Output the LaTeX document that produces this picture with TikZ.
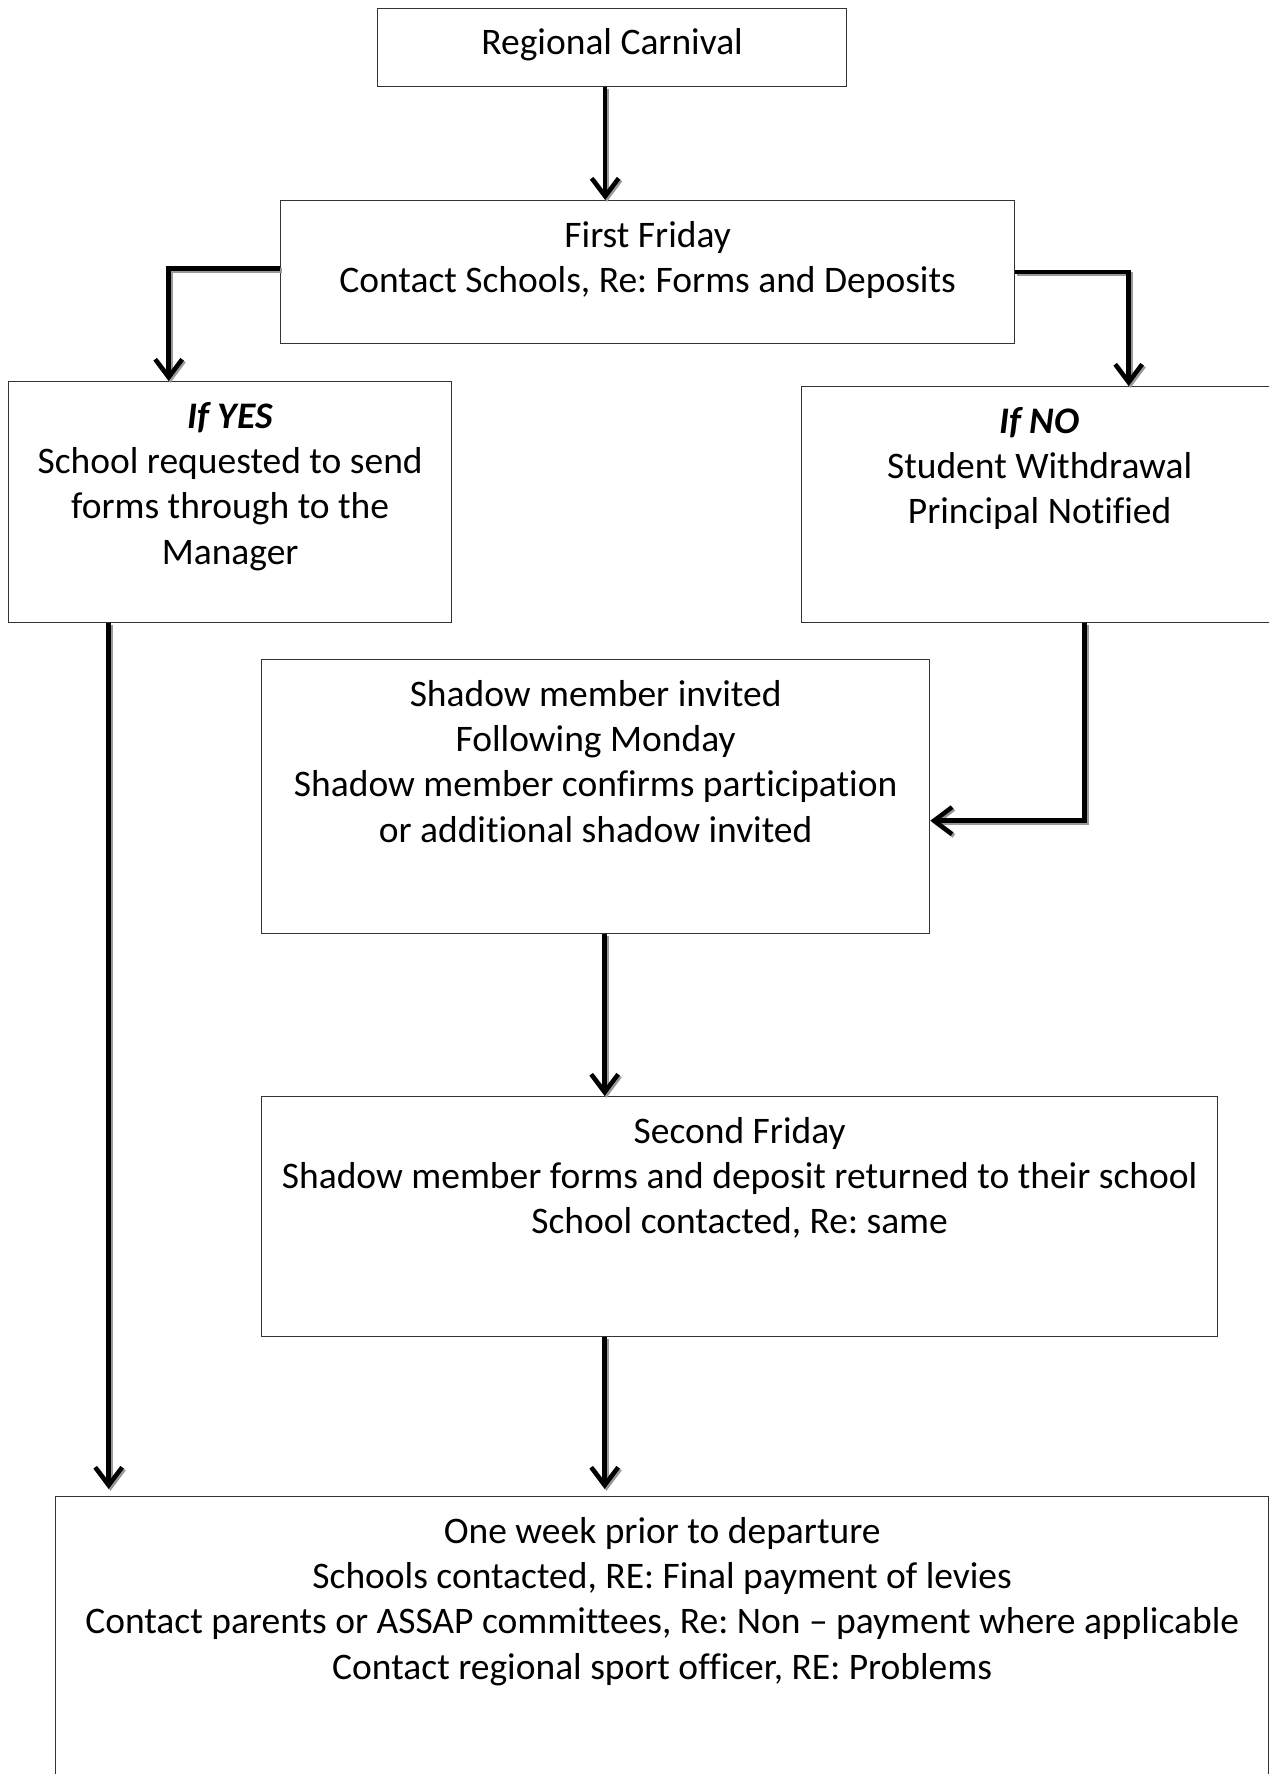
\documentclass[tikz,border=0pt]{standalone}
\usepackage{fontspec}
\setmainfont{Carlito}[Ligatures=NoCommon]
\usetikzlibrary{arrows.meta,calc}
\begin{document}
\frenchspacing
\begin{tikzpicture}[x=1pt,y=-1pt,
  boxstyle/.style={draw=black!80,line width=1.3pt,inner sep=0pt,anchor=north west},
  txt/.style={anchor=base,align=flush center,inner sep=0pt,font=\fontsize{37.5}{45.4}\selectfont\frenchspacing},
  conn/.style={line width=4.5pt,-{Straight Barb[length=18pt,width=27pt]},
    preaction={draw=black!40,line width=4.5pt,transform canvas={xshift=1.8pt,yshift=-1.8pt}}}]
\useasboundingbox (0,0) rectangle (1269,1774);
\clip (0,0) rectangle (1269,1774);
% boxes
\node[boxstyle,minimum width=469pt,minimum height=78pt] (rc) at (377,8) {};
\node[boxstyle,minimum width=734pt,minimum height=143pt] (ff) at (280,200) {};
\node[boxstyle,minimum width=443pt,minimum height=241pt] (yes) at (8,381) {};
\node[boxstyle,minimum width=476pt,minimum height=236pt] (no) at (801,386) {};
\node[boxstyle,minimum width=668pt,minimum height=274pt] (sh) at (261,659) {};
\node[boxstyle,minimum width=956pt,minimum height=240pt] (sf) at (261,1096) {};
\node[boxstyle,minimum width=1213pt,minimum height=320pt] (bot) at (55,1496) {};
% texts
\node[txt,text width=460pt] (rct) at ([yshift=-47pt]rc.north) {Regional Carnival};
\node[txt,text width=720pt] (fft) at ([yshift=-47pt]ff.north) {First Friday\\Contact Schools, Re: Forms and Deposits};
\node[txt,text width=435pt] (yest) at ([yshift=-47pt]yes.north) {\textbf{\textit{If YES}}\\School requested to send\\forms through to the\\Manager};
\node[txt,text width=465pt] (not) at ([yshift=-47pt]no.north) {\textbf{\textit{If NO}}\\Student Withdrawal\\Principal Notified};
\node[txt,text width=660pt] (sht) at ([yshift=-47pt]sh.north) {Shadow member invited\\Following Monday\\Shadow member confirms participation\\or additional shadow invited};
\node[txt,text width=950pt] (sft) at ([yshift=-47pt]sf.north) {Second Friday\\Shadow member forms and deposit returned to their school\\School contacted, Re: same};
\node[txt,text width=1200pt] (bott) at ([yshift=-47pt]bot.north) {One week prior to departure\\Schools contacted, RE: Final payment of levies\\Contact parents or ASSAP committees, Re: Non -- payment where applicable\\Contact regional sport officer, RE: Problems};
% connectors
\draw[conn] ([xshift=-7pt]rc.south) -- ([xshift=-7pt]rc.south |- ff.north);
\draw[conn] ([yshift=3.5pt]ff.west) -| ([xshift=-61.5pt]yes.north);
\draw[conn] ([yshift=0pt]ff.east) -| ([xshift=89pt]no.north);
\draw[conn] ([xshift=45pt]no.south) |- ([yshift=-24pt]sh.east);
\draw[conn] ([xshift=9pt]sh.south) -- ([xshift=9pt]sh.south |- sf.north);
\draw[conn,shorten >=7pt] ([xshift=-135pt]sf.south) -- ([xshift=-135pt]sf.south |- bot.north);
\draw[conn,shorten >=7pt] ([xshift=-121.5pt]yes.south) -- ([xshift=-121.5pt]yes.south |- bot.north);
\end{tikzpicture}
\end{document}
